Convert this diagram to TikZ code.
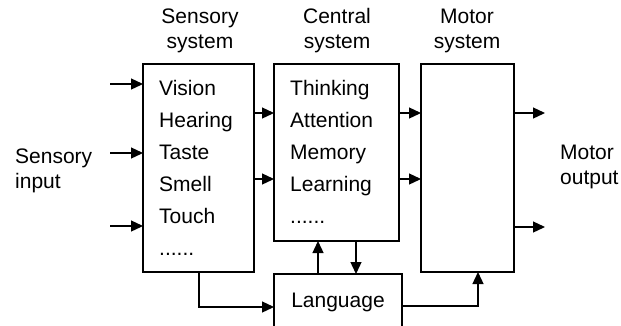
\documentclass[tikz,border=0pt]{standalone}
\usepackage{fontspec}
\setmainfont{Liberation Sans}
\usetikzlibrary{arrows.meta}
\newcommand{\moredots}{......}

\begin{document}
\begin{tikzpicture}[x=1pt,y=-1pt,
    box/.style={draw,line width=1.3pt,inner sep=0pt,outer sep=0pt},
    arr/.style={line width=1.3pt,-{Triangle[length=12pt,width=11pt]}},
    lbl/.style={font=\fontsize{21}{25}\selectfont,align=center,inner sep=0pt},
    item/.style={font=\fontsize{21}{25}\selectfont,inner sep=0pt,anchor=base west}]
        \useasboundingbox (0,0) rectangle (621,325);
        \clip (0,0) rectangle (621,325);
        % the four boxes
        \node[box,minimum width=111pt,minimum height=208pt] (sens) at (198.5,168) {};
        \node[box,minimum width=125pt,minimum height=177pt] (cent) at (336.5,152.5) {};
        \node[box,minimum width=93pt,minimum height=208pt] (mot) at (467.5,168) {};
        \node[box,minimum width=128pt,minimum height=56pt,font=\fontsize{21}{25}\selectfont] (lang) at (338,302) {Language};
        % headings
        \node[lbl] (senshead) at (200,31) {Sensory\\system};
        \node[lbl] (centhead) at (337,31) {Central\\system};
        \node[lbl] (mothead) at (467,31) {Motor\\system};
        \node[lbl,align=left,anchor=west] (input) at (15,171) {Sensory\\input};
        \node[lbl,align=left,anchor=west] (output) at (560,167) {Motor\\output};
        % box contents
        \foreach \w [count=\i] in {Vision,Hearing,Taste,Smell,Touch,\moredots}
            \node[item] (s\i) at (159,{63+32*\i}) {\w};
        \foreach \w [count=\i] in {Thinking,Attention,Memory,Learning,\moredots}
            \node[item] (c\i) at (290,{63+32*\i}) {\w};
        % sensory input
        \coordinate (in1) at (110,84);
        \coordinate (in2) at (110,153);
        \coordinate (in3) at (110,226);
        \draw[arr] (in1) -- (in1 -| sens.west);
        \draw[arr] (in2) -- (in2 -| sens.west);
        \draw[arr] (in3) -- (in3 -| sens.west);
        % between the systems
        \draw[arr] (sens.east |- 0,113) -- (cent.west |- 0,113);
        \draw[arr] (sens.east |- 0,179) -- (cent.west |- 0,179);
        \draw[arr] (cent.east |- 0,113) -- (mot.west |- 0,113);
        \draw[arr] (cent.east |- 0,179) -- (mot.west |- 0,179);
        % motor output
        \coordinate (out1) at (545,113);
        \coordinate (out2) at (545,227);
        \draw[arr] (mot.east |- out1) -- (out1);
        \draw[arr] (mot.east |- out2) -- (out2);
        % language links
        \draw[arr] (sens.south -| 199,0) |- (lang.west |- 0,307);
        \draw[arr] (lang.north -| 318,0) -- (cent.south -| 318,0);
        \draw[arr] (cent.south -| 356,0) -- (lang.north -| 356,0);
        \draw[arr] (lang.east |- 0,306) -| (mot.south -| 478,0);
    \end{tikzpicture}
\end{document}
